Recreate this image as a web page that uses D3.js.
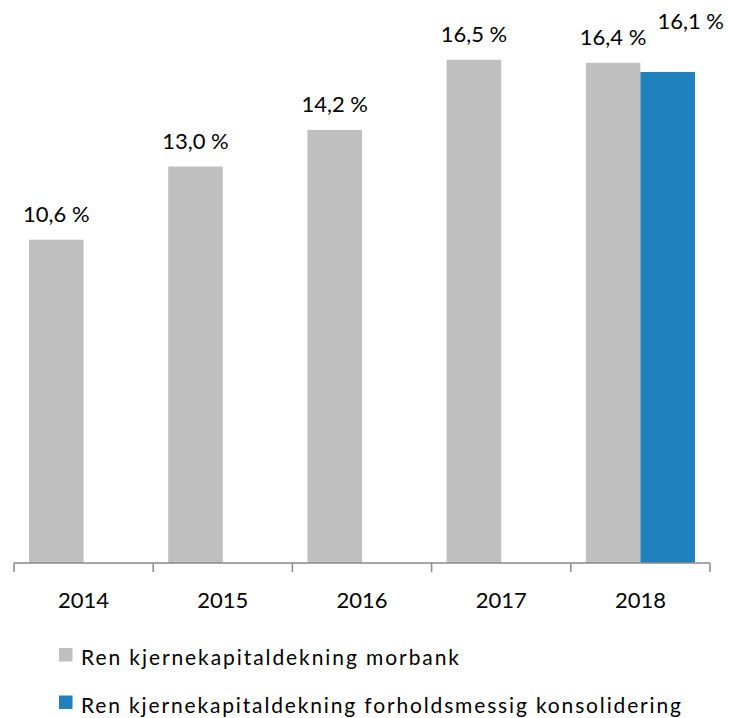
<!DOCTYPE html>
<html><head><meta charset="utf-8">
<script src="https://cdn.jsdelivr.net/npm/d3@7"></script>
<style>body{margin:0;background:#fff}svg{display:block}</style>
</head><body>
<script>
const categories = ["2014","2015","2016","2017","2018"];
const seriesNames = ["Ren kjernekapitaldekning morbank","Ren kjernekapitaldekning forholdsmessig konsolidering"];
const morbank = [10.6, 13.0, 14.2, 16.5, 16.4];
const konsolidering = [null, null, null, null, 16.1];
const colors = ["#BFBFBF", "#1F81BD"];

const W = 729, H = 718;
const svg = d3.select("body").append("svg").attr("width", W).attr("height", H);
const font = "Lato, 'Open Sans', sans-serif";

const x = d3.scaleBand().domain(categories).range([14, 710]).padding(0);
const xSub = d3.scaleBand().domain([0,1]).range([0, x.bandwidth()]).paddingInner(0).paddingOuter(0.275);
const y = d3.scaleLinear().domain([0, 18]).range([563, 14]);

const series = [morbank, konsolidering];
series.forEach((vals, si) => {
  const data = categories.map((c, i) => ({c, v: vals[i]})).filter(d => d.v != null);
  svg.append("g").selectAll("rect").data(data).join("rect")
    .attr("x", d => x(d.c) + xSub(si))
    .attr("width", xSub.bandwidth())
    .attr("y", d => y(d.v))
    .attr("height", d => y(0) - y(d.v))
    .attr("fill", colors[si]);
  svg.append("g").selectAll("text").data(data).join("text")
    .attr("x", d => x(d.c) + xSub(si) + xSub.bandwidth()/2 + (si === 1 ? 23 : 0))
    .attr("y", d => y(d.v) - (si === 1 ? 43 : 18))
    .attr("text-anchor", "middle")
    .attr("font-family", font).attr("font-size", 22).attr("fill", "#000")
    .text(d => d.v.toFixed(1).replace(".", ",") + " %");
});

// axis
const axis = svg.append("g").attr("transform", `translate(0,${y(0)})`)
  .call(d3.axisBottom(x).tickSize(0).tickPadding(0));
axis.select(".domain").attr("stroke", "#898989").attr("stroke-width", 1.5).attr("d", "M14,0H710");
axis.selectAll(".tick line").remove();
axis.selectAll(".tick text").attr("font-family", font).attr("font-size", 22).attr("fill", "#000")
  .attr("dy", 0).attr("y", 45);
const bounds = categories.map(c => x(c)).concat([x.range()[1]]);
axis.append("g").selectAll("line").data(bounds).join("line")
  .attr("x1", d => d).attr("x2", d => d).attr("y1", 0).attr("y2", 9)
  .attr("stroke", "#898989").attr("stroke-width", 1.5);

// legend
const leg = svg.append("g");
const legW = [378, 600];
seriesNames.forEach((n, i) => {
  const g = leg.append("g").attr("transform", `translate(59,${648 + i*47.5})`);
  g.append("rect").attr("width", 13.5).attr("height", 13.5).attr("fill", colors[i]);
  g.append("text").attr("x", 22).attr("y", 17).attr("font-family", font).attr("font-size", 21)
    .attr("fill", "#000").attr("textLength", legW[i]).attr("lengthAdjust", "spacing").text(n);
});
</script>
</body></html>
